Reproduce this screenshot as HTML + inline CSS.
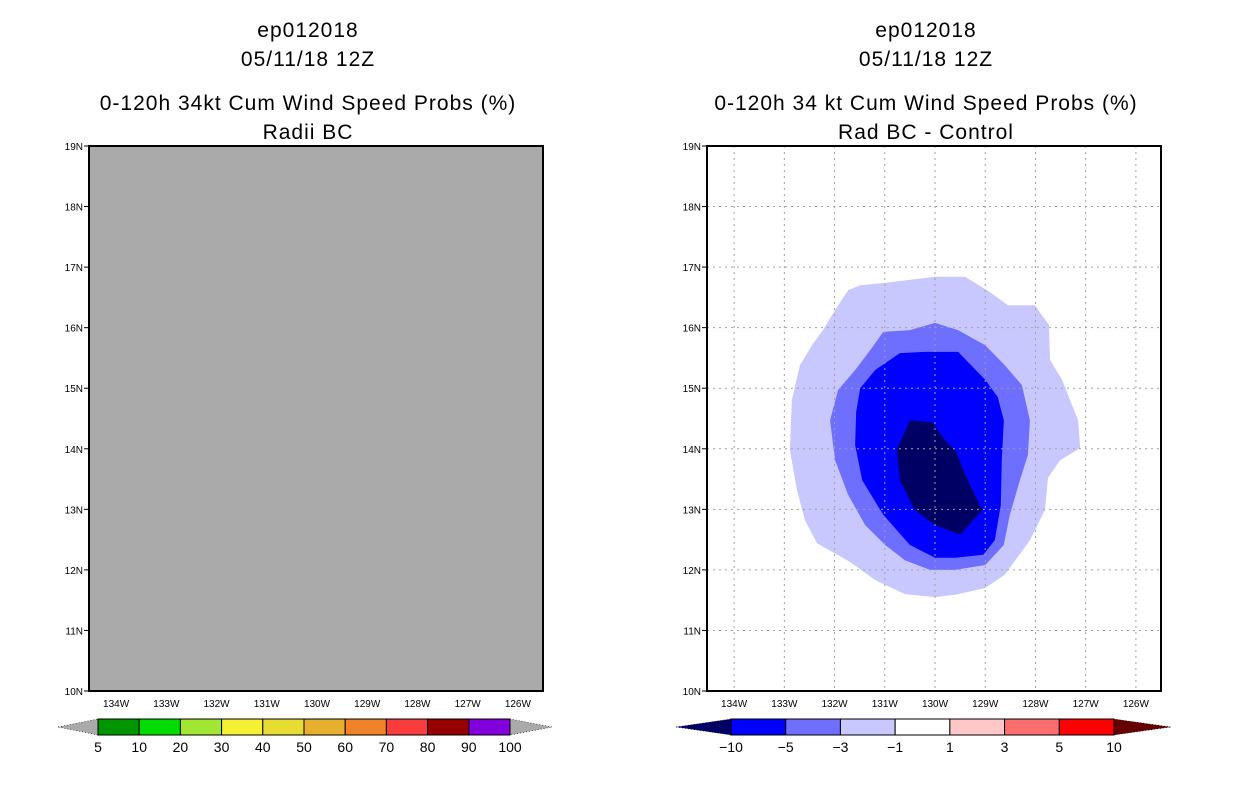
<!DOCTYPE html>
<html><head><meta charset="utf-8"><style>
html,body{margin:0;padding:0;background:#fff;}
svg{display:block;font-family:"Liberation Sans",sans-serif;}
.t{font-size:21px;text-anchor:middle;fill:#000;letter-spacing:1px}
.tk{font-size:10px;fill:#000}
.cb{font-size:14px;fill:#000;text-anchor:middle}
</style></head><body>
<svg id="s" width="1236" height="800" viewBox="0 0 1236 800">
<g>
<text class="t" x="308" y="37">ep012018</text>
<text class="t" x="308" y="66">05/11/18 12Z</text>
<text class="t" x="308" y="110">0-120h 34kt Cum Wind Speed Probs (%)</text>
<text class="t" x="308" y="139">Radii BC</text>
</g>
<g>
<text class="t" x="926" y="37">ep012018</text>
<text class="t" x="926" y="66">05/11/18 12Z</text>
<text class="t" x="926" y="110">0-120h 34 kt Cum Wind Speed Probs (%)</text>
<text class="t" x="926" y="139">Rad BC - Control</text>
</g>
<g id="left"></g>
<g id="right"></g>
<g id="cbl"></g>
<g id="cbr"></g>
</svg>
<script>
const lonTicks=[-134,-133,-132,-131,-130,-129,-128,-127,-126];
const lonLabels=["134W","133W","132W","131W","130W","129W","128W","127W","126W"];
const latTicks=[10,11,12,13,14,15,16,17,18,19];
const latLabels=["10N","11N","12N","13N","14N","15N","16N","17N","18N","19N"];
// difference contours (lon, lat)
const lightLon=[-131.73,-131.49,-131.0,-130.0,-129.4,-128.91,-128.55,-128.01,-127.73,-127.71,-127.47,-127.15,-127.11,-127.51,-127.75,-127.81,-128.11,-128.61,-129.0,-129.6,-130.0,-130.6,-131.19,-131.69,-132.35,-132.59,-132.75,-132.89,-132.85,-132.69,-132.45,-132.23,-131.99];
const lightLat=[16.62,16.70,16.74,16.84,16.84,16.59,16.37,16.37,16.04,15.47,15.14,14.47,14.01,13.81,13.52,12.99,12.49,11.92,11.70,11.59,11.55,11.60,11.83,12.13,12.44,12.82,13.32,13.98,14.81,15.38,15.71,15.96,16.29];
const medLon=[-131.03,-130.5,-130.0,-129.54,-129.0,-128.61,-128.27,-128.11,-128.15,-128.31,-128.51,-128.63,-129.0,-129.6,-130.1,-130.6,-130.99,-131.39,-131.73,-131.99,-132.09,-131.93,-131.59,-131.29];
const medLat=[15.93,15.96,16.08,15.96,15.71,15.38,15.05,14.47,13.90,13.48,12.91,12.41,12.08,12.0,12.0,12.16,12.41,12.74,13.24,13.81,14.47,14.97,15.30,15.63];
const blueLon=[-130.7,-130.2,-129.54,-129.0,-128.75,-128.63,-128.67,-128.69,-128.81,-129.04,-129.6,-130.0,-130.5,-131.03,-131.45,-131.59,-131.57,-131.49,-131.19];
const blueLat=[15.58,15.60,15.60,15.14,14.85,14.47,13.81,13.07,12.49,12.25,12.20,12.20,12.41,12.91,13.48,14.06,14.61,15.0,15.30];
const darkLon=[-130.5,-130.06,-129.8,-129.58,-129.4,-129.06,-129.5,-130.0,-130.4,-130.7,-130.76];
const darkLat=[14.47,14.44,14.14,13.95,13.57,12.99,12.58,12.74,12.99,13.48,13.98];
const leftLevels=["5","10","20","30","40","50","60","70","80","90","100"];
const leftColors=["#009600","#00dc00","#a0e632","#f5f032","#e6dc32","#e6af2d","#f08228","#fa3c3c","#960000","#8200dc"];
const rightLevels=["-10","-5","-3","-1","1","3","5","10"];
const rightColors=["#0000ff","#6e6eff","#c8c8ff","#ffffff","#ffc8c8","#ff6e6e","#ff0000"];
const NS="http://www.w3.org/2000/svg";
function mk(p,tag,a){const e=document.createElementNS(NS,tag);for(const k in a)e.setAttribute(k,a[k]);p.appendChild(e);return e;}
const yTop=146,yBot=691,lonMin=-134.54,lonMax=-125.5;
function panel(g,x0,x1,grey,grid){
  const X=l=>x0+(l-lonMin)/(lonMax-lonMin)*(x1-x0);
  const Y=v=>yBot-(v-10)/9*(yBot-yTop);
  const bg=mk(g,'rect',{x:x0,y:yTop,width:x1-x0,height:yBot-yTop,fill:grey?'#aaaaaa':'#ffffff'});
  
  
  if(grid){
    const polys=[[lightLon,lightLat,'#c8c8ff','contour-minus1-to-minus3'],[medLon,medLat,'#6e6eff','contour-minus3-to-minus5'],[blueLon,blueLat,'#0000ff','contour-minus5-to-minus10'],[darkLon,darkLat,'#000064','contour-below-minus10']];
    polys.forEach(p=>{
      const pts=p[0].map((l,i)=>X(l)+','+Y(p[1][i])).join(' ');
      const e=mk(g,'polygon',{points:pts,fill:p[2]});
      
      
    });
    lonTicks.forEach(l=>{mk(g,'line',{x1:X(l),x2:X(l),y1:yTop,y2:yBot,stroke:'#a0a0a0','stroke-dasharray':'2,4'});});
    latTicks.forEach(v=>{mk(g,'line',{x1:x0,x2:x1,y1:Y(v),y2:Y(v),stroke:'#a0a0a0','stroke-dasharray':'2,4'});});
  }
  const fr=mk(g,'rect',{x:x0,y:yTop,width:x1-x0,height:yBot-yTop,fill:'none',stroke:'#000','stroke-width':2});
  
  
  lonTicks.forEach((l,i)=>{
    const t=mk(g,'text',{x:X(l),y:yBot+16,'text-anchor':'middle',class:'tk'});t.textContent=lonLabels[i];
    
    
  });
  latTicks.forEach((v,i)=>{
    mk(g,'line',{x1:x0-5,x2:x0,y1:Y(v),y2:Y(v),stroke:'#000'});
    const t=mk(g,'text',{x:x0-6,y:Y(v)+4,'text-anchor':'end',class:'tk'});t.textContent=latLabels[i];
    
    
  });
}
panel(document.getElementById('left'),89,543,true,false);
panel(document.getElementById('right'),707,1161,false,true);
function cbar(g,xl,x0,x1,xr,colors,labels,lc,rc){
  const y0=719,y1=735,w=(x1-x0)/colors.length;
  mk(g,'polygon',{points:`${xl},${(y0+y1)/2} ${x0},${y0} ${x0},${y1}`,fill:lc,stroke:'#000','stroke-dasharray':'1,2','stroke-width':0.6});
  mk(g,'polygon',{points:`${xr},${(y0+y1)/2} ${x1},${y0} ${x1},${y1}`,fill:rc,stroke:'#000','stroke-dasharray':'1,2','stroke-width':0.6});
  colors.forEach((c,i)=>{
    const r=mk(g,'rect',{x:x0+i*w,y:y0,width:w,height:y1-y0,fill:c,stroke:'#000','stroke-width':1});
    
    
  });
  labels.forEach((s,i)=>{
    const t=mk(g,'text',{x:x0+i*w,y:752,class:'cb'});t.textContent=s.replace('-','\u2212');
    
    
  });
}
cbar(document.getElementById('cbl'),58,98,510,552,leftColors,leftLevels,'#aaaaaa','#aaaaaa');
cbar(document.getElementById('cbr'),676,731,1114,1171,rightColors,rightLevels,'#000064','#640000');
</script>
</body></html>
